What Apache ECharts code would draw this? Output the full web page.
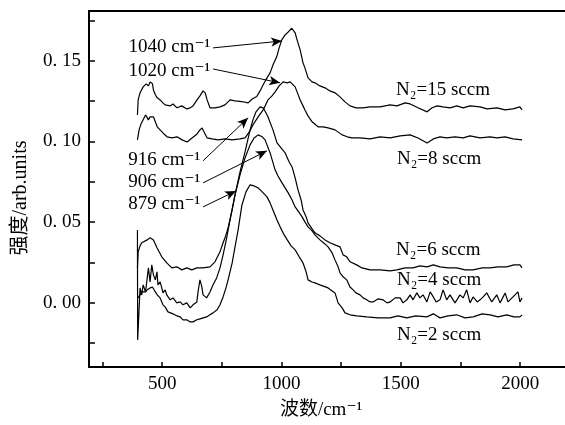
<!DOCTYPE html>
<html>
<head>
<meta charset="utf-8">
<script src="https://cdn.jsdelivr.net/npm/echarts@6.0.0/dist/echarts.min.js"></script>
<style>html,body{margin:0;padding:0;background:#fff;}#c{width:565px;height:425px;}</style>
</head>
<body>
<div id="c"></div>
<script>
// ---- data (wavenumber cm^-1, intensity a.u.) ----
const n15 = [[396,0.1164],[399,0.1258],[407,0.1302],[420,0.1339],[433,0.1358],[442,0.1345],[449,0.137],[459,0.1358],[463,0.132],[471,0.129],[479,0.1271],[491,0.1258],[503,0.124],[512,0.1227],[533,0.1221],[545,0.1233],[562,0.1209],[582,0.1221],[603,0.1202],[617,0.1209],[629,0.1221],[646,0.1258],[658,0.1283],[671,0.1314],[680,0.1302],[688,0.1258],[700,0.1209],[721,0.1209],[742,0.1215],[763,0.1227],[784,0.1258],[805,0.1252],[833,0.1248],[860,0.124],[877,0.1264],[896,0.1279],[910,0.1314],[923,0.1352],[939,0.1395],[952,0.1426],[964,0.1475],[980,0.1527],[990,0.1581],[1001,0.1631],[1015,0.1662],[1028,0.168],[1043,0.1703],[1048,0.1699],[1057,0.1674],[1065,0.1631],[1078,0.1569],[1090,0.1488],[1098,0.1457],[1111,0.1395],[1128,0.137],[1140,0.1364],[1161,0.1345],[1182,0.1333],[1203,0.1314],[1224,0.1302],[1245,0.1277],[1266,0.1246],[1287,0.1221],[1312,0.1209],[1342,0.1209],[1371,0.1215],[1413,0.1215],[1455,0.1227],[1484,0.1221],[1518,0.124],[1539,0.1233],[1572,0.1209],[1610,0.1184],[1631,0.1209],[1652,0.1221],[1677,0.1215],[1706,0.1209],[1735,0.1221],[1761,0.1209],[1790,0.1221],[1832,0.1215],[1861,0.1202],[1903,0.1209],[1937,0.1196],[1970,0.1202],[1999,0.1215],[2008,0.1196]];
const n8 = [[396,0.101],[403,0.1072],[411,0.1109],[430,0.1165],[442,0.1134],[449,0.1153],[463,0.1153],[471,0.1122],[479,0.1091],[491,0.1072],[503,0.1053],[520,0.1029],[541,0.1022],[562,0.1029],[583,0.101],[604,0.0997],[625,0.1022],[646,0.1047],[658,0.1072],[667,0.1084],[675,0.106],[688,0.1022],[709,0.1016],[734,0.101],[763,0.1016],[793,0.101],[826,0.1016],[847,0.1022],[868,0.1066],[880,0.1103],[902,0.1153],[923,0.1196],[943,0.1258],[960,0.1283],[973,0.1308],[990,0.1345],[1007,0.137],[1024,0.1364],[1036,0.137],[1044,0.1364],[1057,0.1339],[1065,0.1308],[1078,0.1258],[1090,0.1221],[1098,0.1196],[1111,0.1159],[1128,0.1122],[1153,0.1091],[1174,0.1091],[1195,0.1084],[1224,0.1072],[1254,0.1041],[1275,0.1029],[1295,0.1022],[1329,0.1022],[1371,0.1016],[1413,0.1029],[1455,0.1022],[1497,0.1035],[1539,0.1041],[1572,0.1022],[1610,0.0991],[1636,0.1016],[1664,0.1029],[1692,0.1022],[1727,0.1029],[1761,0.1022],[1790,0.1035],[1832,0.1022],[1874,0.1029],[1903,0.1022],[1937,0.1029],[1970,0.1016],[2008,0.101]];
const n6 = [[396,0.0215],[399,0.0315],[407,0.0352],[414,0.0371],[437,0.0389],[449,0.0402],[463,0.0389],[478,0.034],[498,0.0284],[519,0.0246],[540,0.0215],[561,0.0222],[582,0.0203],[603,0.0215],[624,0.0203],[645,0.0215],[671,0.0215],[700,0.0222],[721,0.0253],[742,0.0315],[755,0.0371],[763,0.0402],[776,0.0464],[793,0.0575],[805,0.0668],[826,0.0811],[847,0.0935],[868,0.1072],[880,0.1134],[893,0.1184],[910,0.1215],[923,0.1209],[935,0.1177],[943,0.1153],[964,0.1072],[981,0.0991],[998,0.096],[1015,0.0929],[1032,0.0873],[1044,0.0842],[1057,0.0774],[1069,0.07],[1082,0.0637],[1090,0.0575],[1103,0.0532],[1111,0.0495],[1128,0.0457],[1140,0.0433],[1161,0.0414],[1182,0.0389],[1203,0.0371],[1224,0.0358],[1245,0.0346],[1258,0.0296],[1273,0.0284],[1287,0.0253],[1315,0.0234],[1337,0.0215],[1371,0.0203],[1413,0.0203],[1455,0.0197],[1483,0.0203],[1518,0.0215],[1551,0.0215],[1580,0.0228],[1610,0.0222],[1636,0.0234],[1664,0.0222],[1698,0.0215],[1734,0.0215],[1769,0.0203],[1803,0.0203],[1841,0.0215],[1874,0.0215],[1907,0.0222],[1944,0.0222],[1974,0.0234],[1999,0.0234],[2008,0.0215]];
const n4 = [[396,0.0451],[397,-0.0232],[407,0.0091],[414,0.0048],[420,0.011],[430,0.0066],[437,0.0153],[442,0.0215],[449,0.0128],[456,0.0234],[463,0.0172],[471,0.0141],[478,0.0191],[482,0.011],[491,0.0128],[498,0.0091],[503,0.006],[512,0.0079],[519,0.0048],[533,0.0017],[545,0.0029],[561,-0.0002],[575,0.0004],[587,-0.0014],[603,-0.0002],[617,-0.0033],[629,-0.0014],[645,0.0004],[650,0.0066],[658,0.0141],[666,0.0097],[671,0.0048],[686,0.0029],[700,0.0066],[713,0.011],[728,0.0153],[742,0.0215],[755,0.0296],[770,0.0402],[784,0.0513],[805,0.0668],[826,0.0793],[847,0.0898],[868,0.0979],[885,0.1022],[902,0.1041],[919,0.1029],[931,0.101],[952,0.0929],[973,0.0824],[985,0.0786],[1002,0.0743],[1028,0.0681],[1044,0.0637],[1057,0.0594],[1069,0.0569],[1086,0.0532],[1098,0.0501],[1111,0.047],[1128,0.0445],[1140,0.042],[1161,0.0389],[1182,0.0364],[1195,0.0346],[1212,0.0308],[1224,0.0265],[1237,0.0222],[1245,0.0184],[1258,0.016],[1273,0.0141],[1287,0.0097],[1300,0.0079],[1312,0.006],[1329,0.0048],[1342,0.0029],[1357,0.0017],[1371,0.0004],[1384,0.0004],[1405,0.0023],[1425,0.0017],[1442,-0.0002],[1455,0.0004],[1476,0.0029],[1497,0.0029],[1509,-0.0002],[1525,0.0017],[1539,0.0048],[1551,0.0017],[1567,0.006],[1580,0.0029],[1593,0.0048],[1609,0.0004],[1623,0.0066],[1636,0.0035],[1648,0.0004],[1664,0.0017],[1677,0.0079],[1692,0.0017],[1706,0.0048],[1727,-0.0002],[1748,0.0048],[1761,0.0029],[1776,0.0079],[1790,-0.0002],[1803,0.0035],[1820,0.0004],[1832,0.0017],[1845,0.0035],[1860,0.006],[1881,0.0004],[1902,0.0048],[1916,-0.0002],[1937,0.006],[1949,0.0004],[1970,0.0035],[1991,0.0066],[1999,0.0004],[2008,0.0029]];
const n2 = [[399,0.0029],[407,0.0048],[414,0.0066],[430,0.0066],[437,0.0079],[449,0.0091],[459,0.0097],[471,0.0066],[479,0.0048],[491,0.0029],[503,-0.0014],[512,-0.0027],[524,-0.0058],[545,-0.007],[562,-0.0083],[575,-0.0089],[587,-0.0107],[603,-0.0107],[617,-0.012],[629,-0.012],[645,-0.0107],[658,-0.0101],[686,-0.0089],[700,-0.0076],[713,-0.0064],[730,-0.0045],[742,-0.0014],[755,0.0035],[767,0.0091],[776,0.0141],[793,0.0246],[805,0.0346],[818,0.0451],[834,0.0606],[851,0.0687],[868,0.0731],[885,0.0724],[902,0.0712],[919,0.0687],[939,0.0656],[952,0.0619],[964,0.0575],[981,0.0513],[994,0.047],[1011,0.042],[1024,0.0389],[1040,0.0352],[1057,0.0327],[1074,0.0284],[1090,0.0246],[1103,0.0191],[1111,0.0141],[1128,0.0128],[1140,0.0122],[1161,0.011],[1195,0.0091],[1224,0.006],[1237,-0.0002],[1254,-0.0033],[1266,-0.0064],[1287,-0.0076],[1315,-0.0083],[1357,-0.0089],[1405,-0.0095],[1455,-0.0095],[1488,-0.0083],[1525,-0.0095],[1563,-0.0083],[1609,-0.0089],[1636,-0.007],[1664,-0.0095],[1698,-0.0083],[1734,-0.0076],[1769,-0.0095],[1803,-0.0089],[1841,-0.007],[1874,-0.0076],[1907,-0.0089],[1944,-0.0076],[1974,-0.0089],[1999,-0.0089],[2008,-0.0076]];

const xTicks = [250,500,750,1000,1250,1500,1750,2000];
const xLabels = [500,1000,1500,2000];
const yTicks = [-0.025,0,0.025,0.05,0.075,0.1,0.125,0.15,0.175];
const yLabels = [0,0.05,0.1,0.15];

const seriesNames = ['N₂=15 sccm','N₂=8 sccm','N₂=6 sccm','N₂=4 sccm','N₂=2 sccm'];
const seriesLabelAt = [[1480,0.132],[1484,0.0892],[1480,0.0327],[1484,0.0141],[1484,-0.0200]];
const peakNames = ['1040 cm⁻¹','1020 cm⁻¹','916 cm⁻¹','906 cm⁻¹','879 cm⁻¹'];
const peakLabelAt = [[359,0.1587],[359,0.1438],[357,0.0886],[357,0.0749],[357,0.0613]];
const arrowFrom = [[713,0.1581],[713,0.145],[671,0.088],[671,0.0743],[671,0.0594]];
const arrowTo = [[1002,0.1624],[994,0.1364],[860,0.1147],[939,0.0942],[809,0.0693]];

const FONT = '"Liberation Serif","DejaVu Serif","Noto Sans CJK SC",serif';
const lineSeries = [n15,n8,n6,n4,n2].map(d => ({
  type:'line', data:d, showSymbol:false, symbol:'none', smooth:false,
  lineStyle:{color:'#000', width:1.2}, silent:true, z:2
}));

const labelData = seriesNames.map((n,i)=>({name:n, value:seriesLabelAt[i]}))
  .concat(peakNames.map((n,i)=>({name:n, value:peakLabelAt[i]})));

const chart = echarts.init(document.getElementById('c'), null, {renderer:'canvas'});
chart.setOption({
  animation:false,
  backgroundColor:'#fff',
  grid:{left:89, right:0, top:11, bottom:58},
  xAxis:[{
    type:'value', min:193, max:2188, position:'bottom',
    axisLine:{show:true, onZero:false, lineStyle:{color:'#000', width:2}},
    axisTick:{show:true, inside:true, length:5, customValues:xTicks, lineStyle:{color:'#000', width:1.5}},
    axisLabel:{customValues:xLabels, color:'#000', fontFamily:FONT, fontSize:19, margin:8, formatter:v=>String(v)},
    splitLine:{show:false},
    name:'波数/cm⁻¹', nameLocation:'middle', nameGap:34,
    nameTextStyle:{color:'#000', fontFamily:FONT, fontSize:19, padding:[0,12,0,0]}
  },{
    type:'value', min:193, max:2188, position:'top',
    axisLine:{show:true, onZero:false, lineStyle:{color:'#000', width:2}},
    axisTick:{show:false}, axisLabel:{show:false}, splitLine:{show:false}
  }],
  yAxis:{
    type:'value', min:-0.04, max:0.181,
    axisLine:{show:true, onZero:false, lineStyle:{color:'#000', width:2}},
    axisTick:{show:true, inside:true, length:6, customValues:yTicks, lineStyle:{color:'#000', width:1.5}},
    axisLabel:{customValues:yLabels, color:'#000', fontFamily:FONT, fontSize:19, margin:8,
      formatter:v=>v.toFixed(2).replace('.', '. ')},
    splitLine:{show:false},
    name:'强度/arb.units', nameLocation:'middle', nameGap:58, nameRotate:90,
    nameTextStyle:{color:'#000', fontFamily:FONT, fontSize:20, padding:[0,18,0,0]}
  },
  series: lineSeries.concat([{
    type:'scatter', data:labelData, symbolSize:0, silent:true, z:5,
    itemStyle:{color:'#000', opacity:1},
    label:{show:true, position:'right', distance:0, formatter:'{b}', color:'#000', opacity:1,
      textBorderWidth:0, fontFamily:FONT, fontSize:19},
    markLine:{
      silent:true, symbol:['none','arrow'], symbolSize:[7,11],
      lineStyle:{color:'#000', width:1, type:'solid', opacity:1},
      label:{show:false},
      data: arrowFrom.map((f,i)=>[{coord:f},{coord:arrowTo[i]}])
    }
  }])
});
</script>
</body>
</html>
